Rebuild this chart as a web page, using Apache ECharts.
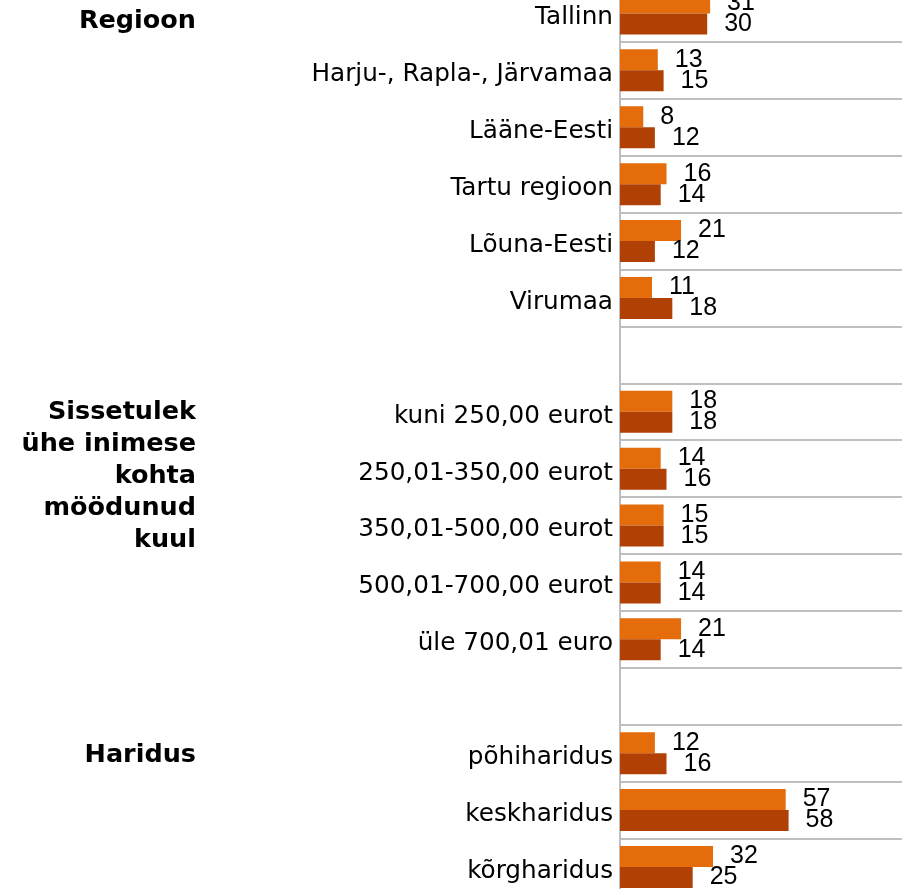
<!DOCTYPE html>
<html>
<head>
<meta charset="utf-8">
<script src="https://cdn.jsdelivr.net/npm/echarts@6/dist/echarts.min.js"></script>
<style>
  html, body { margin: 0; padding: 0; background: #fff; }
  #chart { width: 902px; height: 889px; }
</style>
</head>
<body>
<div id="chart"></div>
<script>
// rows top to bottom, blank strings are the gaps between groups
const categories = [
  'Tallinn', 'Harju-, Rapla-, Järvamaa', 'Lääne-Eesti', 'Tartu regioon', 'Lõuna-Eesti', 'Virumaa',
  ' ',
  'kuni 250,00 eurot', '250,01-350,00 eurot', '350,01-500,00 eurot', '500,01-700,00 eurot', 'üle 700,01 euro',
  '  ',
  'põhiharidus', 'keskharidus', 'kõrgharidus'
]
const seriesA = [31, 13, 8, 16, 21, 11, null, 18, 14, 15, 14, 21, null, 12, 57, 32]
const seriesB = [30, 15, 12, 14, 12, 18, null, 18, 16, 15, 14, 14, null, 16, 58, 25]

const groupLabels = ['Regioon', 'Sissetulek\nühe inimese\nkohta\nmöödunud\nkuul', 'Haridus']

const chart = echarts.init(document.getElementById('chart'))

const valueLabel = {
  show: true,
  position: 'right',
  distance: 17,
  color: '#000',
  fontFamily: 'Liberation Sans, Arial, sans-serif',
  fontSize: 25
}

const boldFont = 'bold 25.5px "DejaVu Sans", Verdana, sans-serif'

chart.setOption({
  animation: false,
  grid: { left: 620, top: -15, width: 290.7, height: 910.4, outerBoundsMode: 'none', containLabel: false },
  xAxis: {
    type: 'value',
    min: 0,
    max: 100,
    show: false
  },
  yAxis: {
    type: 'category',
    inverse: true,
    data: categories,
    axisLine: { show: true, lineStyle: { color: '#bfbfbf', width: 2 } },
    axisTick: { show: false },
    splitLine: { show: true, interval: 0, lineStyle: { color: '#bfbfbf', width: 2 } },
    axisLabel: {
      interval: 0,
      margin: 7,
      color: '#000',
      fontFamily: 'DejaVu Sans, Verdana, sans-serif',
      fontSize: 24.7,
      verticalAlign: 'top',
      lineHeight: 9
    }
  },
  series: [
    {
      type: 'bar',
      data: seriesA,
      barWidth: 21,
      barGap: '0%',
      itemStyle: { color: '#e46c0a' },
      label: valueLabel
    },
    {
      type: 'bar',
      data: seriesB,
      barWidth: 21,
      barGap: '0%',
      itemStyle: { color: '#b14004' },
      label: valueLabel
    }
  ],
  graphic: [
    { type: 'text', right: 706, top: 8, style: { text: groupLabels[0], fill: '#000', font: boldFont, textAlign: 'right' } },
    { type: 'text', right: 706, top: 396, style: { text: groupLabels[1], fill: '#000', font: boldFont, textAlign: 'right', lineHeight: 32 } },
    { type: 'text', right: 706, top: 742, style: { text: groupLabels[2], fill: '#000', font: boldFont, textAlign: 'right' } }
  ]
})
</script>
</body>
</html>
